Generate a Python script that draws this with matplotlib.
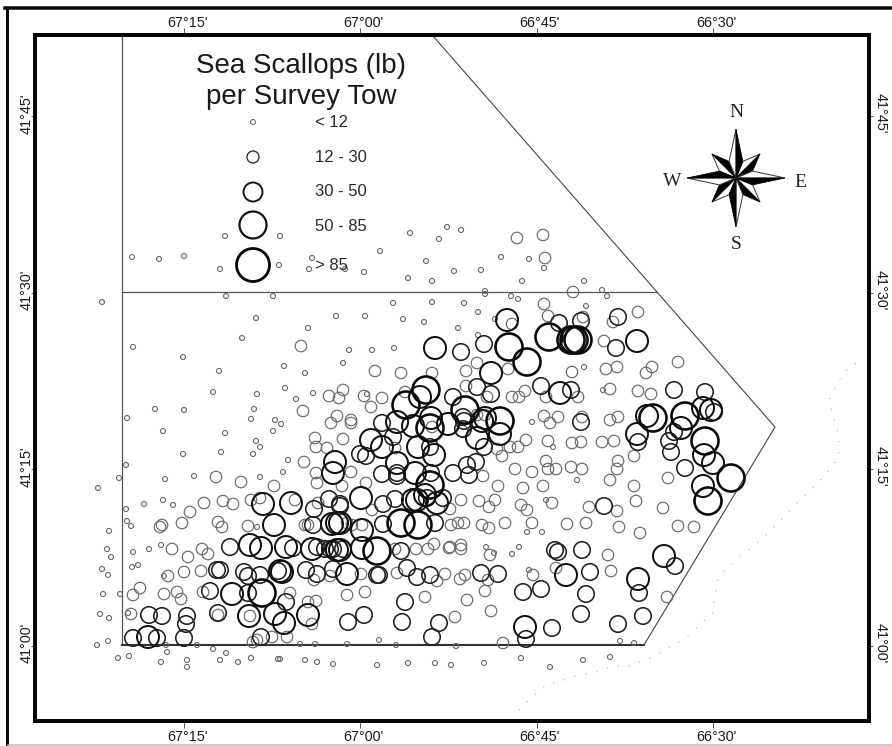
import numpy as np
import matplotlib
matplotlib.use("Agg")
import matplotlib.pyplot as plt
from matplotlib.lines import Line2D
from matplotlib.patches import Polygon
from matplotlib.transforms import ScaledTranslation

tiny_pts = [(225,236),(280,236),(132,257),(159,259),(184,256),(220,269),(279,265),(312,258),(309,269),(345,269),(364,272),(380,251),(410,233),(439,239),(447,227),(426,261),(408,278),(432,281),(226,296),(273,296),(102,302),(393,303),(432,302),(256,318),(336,316),(365,316),(403,319),(424,322),(308,328),(242,338),(133,347),(349,350),(372,350),(394,348),(183,357),(284,366),(343,363),(219,371),(305,373),
(461,230),(501,257),(529,259),(544,268),(454,271),(481,270),(522,281),(584,281),(602,290),(607,296),(485,291),(485,294),(511,296),(518,299),(464,303),(478,312),(586,306),(458,328),(495,319),(478,335),
(213,392),(257,394),(285,388),(313,393),(296,399),(155,409),(184,410),(254,409),(127,418),(251,419),(275,420),(281,424),(163,431),(225,433),(273,431),(256,441),(260,447),(183,454),(221,452),(253,454),(288,460),(126,465),(283,472),(194,476),(260,477),(119,478),(165,479),(98,488),(144,504),(163,500),(173,505),(126,509),(127,521),(131,526),(109,531),(257,527),(107,549),(111,557),(133,552),(149,549),(161,545),(102,569),(108,575),(132,567),(138,565),(164,576),(103,594),(120,594),(100,614),(109,618),(128,613),(97,645),(108,641),(118,658),(129,656),(166,645),(197,645),(167,652),(213,649),(226,653),(161,662),(187,660),(187,667),(220,660),(238,662),(251,658),(278,659),(280,659),(305,660),(317,662),(333,664),(377,665),(408,663),(435,663),(300,644),(315,644),(347,644),(379,640),(396,645),
(367,394),(532,422),(553,447),(603,390),(584,367),(577,480),(546,500),(486,547),(494,553),(512,554),(519,547),(529,570),(527,532),(542,532),(620,641),(634,643),(451,665),(484,663),(521,658),(550,667),(583,660),(610,657),(456,646)]

small_pts = [(301,346),(375,371),(401,373),(432,373),(517,238),(543,235),(545,258),(573,292),(544,304),(638,312),(548,316),(583,317),(512,324),(613,322),(604,341),(678,362),(617,367),(606,369),(652,367),(477,363),(466,371),(508,369),(572,372),(646,373),
(466,386),(525,391),(519,397),(512,397),(546,397),(578,397),(487,397),(610,389),(638,391),(651,394),
(329,396),(339,398),(343,390),(364,396),(382,398),(371,407),(303,411),(337,416),(331,423),(351,420),(351,423),(315,438),(316,447),(327,448),(343,439),(304,462),(316,473),(317,483),(351,472),(342,486),(366,483),(216,477),(241,482),(274,486),(204,503),(223,501),(233,504),(190,512),(251,500),(260,498),(295,500),(182,523),(162,525),(160,527),(218,522),(222,527),(248,526),(172,549),(188,557),(202,549),(208,554),(184,572),(168,576),(201,571),(140,588),(133,595),(164,594),(177,592),(181,599),(203,592),(131,614),(250,616),(218,615),(290,593),(308,602),(316,601),(347,595),(365,592),(312,624),(272,637),(287,637),(257,640),(253,642),(425,597),(361,574),(397,573),(330,576),(314,580),(416,549),(428,549),(434,544),(449,548),(437,581),(445,574),(318,503),(372,510),(352,525),(305,525),(308,525),(405,392),(395,448),(347,523),(362,525),(395,549),(432,427),
(477,415),(485,415),(462,431),(550,423),(544,416),(558,417),(582,417),(610,420),(618,417),(526,440),(548,441),(572,443),(581,442),(602,442),(614,441),(518,447),(510,447),(497,449),(502,456),(515,469),(532,472),(546,461),(548,469),(556,469),(571,467),(582,469),(618,461),(617,469),(610,480),(634,456),(634,486),(636,501),(663,508),(668,478),(678,526),(694,527),(640,533),(619,527),(617,511),(589,507),(586,523),(567,524),(552,503),(543,486),(523,488),(498,486),(461,500),(479,501),(495,500),(489,507),(450,509),(521,505),(527,510),(451,525),(458,523),(464,523),(482,525),(489,528),(505,523),(532,523),(450,547),(461,545),(461,549),(490,555),(608,555),(611,571),(556,568),(533,575),(488,580),(465,575),(460,579),(485,591),(467,600),(491,611),(455,617),(503,643),(667,597),(483,476)]

medium_pts = [(484,344),(461,352),(618,317),(559,323),(581,321),(616,348),(477,387),(491,394),(453,397),(541,386),(571,390),(674,390),(705,392),(714,412),(674,432),(669,441),(671,452),(638,442),(685,468),(604,506),(581,422),
(382,423),(393,437),(430,447),(463,429),(463,417),(484,447),(366,456),(360,454),(397,473),(397,476),(382,474),(431,473),(453,473),(467,465),(476,462),(469,475),(464,421),(443,498),(395,499),(383,504),(340,504),(427,498),(435,523),(383,524),(401,551),(330,549),
(230,547),(293,548),(313,525),(329,499),(325,549),(317,547),(343,549),(333,549),(278,571),(260,575),(248,576),(244,572),(220,570),(217,570),(306,570),(317,574),(333,569),(377,575),(379,575),(407,568),(417,577),(430,575),(210,591),(248,593),(286,602),(405,602),(149,615),(162,616),(187,616),(186,624),(184,638),(133,638),(157,638),(218,613),(261,637),(348,622),(364,615),(402,622),(432,637),(439,623),(481,573),(498,574),(555,550),(558,552),(582,550),(675,566),(639,593),(643,616),(618,624),(581,614),(586,594),(590,572),(541,589),(523,592),(526,639),(552,628),(340,506),(314,509)]

large_pts = [(435,348),(507,320),(491,373),(637,341),(560,393),(703,408),(711,410),(647,416),(681,428),(637,434),(704,455),(713,463),(703,486),(664,556),(638,579),(566,575),(525,627),
(420,397),(500,434),(485,418),(477,438),(448,424),(431,418),(413,426),(397,422),(371,440),(382,447),(418,447),(434,455),(397,463),(415,473),(335,462),(333,473),(361,498),(417,500),(437,503),(425,495),(413,500),(362,530),(337,523),(362,548),(340,550),(347,574),(263,504),(291,503),(274,525),(250,545),(261,548),(286,547),(332,524),(340,523),(312,549),(337,550),(282,572),(280,571),(232,594),(148,637),(249,616),(275,614),(284,623),(308,615),(482,421)]

xlarge_pts = [(509,347),(527,362),(549,337),(571,340),(574,340),(578,340),(426,390),(406,405),(465,410),(500,421),(430,428),(430,485),(401,523),(418,525),(377,551),(262,593),(653,418),(685,416),(705,441),(731,478),(708,501)]

classes = ["< 12", "12 - 30", "30 - 50", "50 - 85", "> 85"]
lon_ticks = [67.25, 67.0, 66.75, 66.5]
lon_labels = ["67°15'", "67°00'", "66°45'", "66°30'"]
lat_ticks = [41.75, 41.5, 41.25, 41.0]
lat_labels = ["41°45'", "41°30'", "41°15'", "41°00'"]

boundary = [(122,36),(122,645),(644,645),(775,427),(657,292),(433,36)]
closed_line = [(122,292),(657,292)]
coast = [(519,710),(528,701),(537,693),(546,685),(561,681),(579,675),(596,672),(613,666),(629,666),(646,660),(663,651),(679,642),(694,631),(704,621),(713,613),(714,600),(718,580),(724,571),(733,563),(741,555),(751,548),(766,535),(783,518),(799,501),(816,485),(831,468),(839,456),(839,436),(833,416),(829,400),(838,383),(843,373),(853,365),(864,358)]

W, H = 892, 746
L, T, R, B = 35, 35, 869, 721
PX_PER_DEG = 176.4 / 0.25


def lon(x):
    return 67.25 - (np.asarray(x, float) - 184.0) / PX_PER_DEG


def lat(y):
    return 41.0 + (645.7 - np.asarray(y, float)) / PX_PER_DEG


def geo(points):
    a = np.array(points, float)
    return lon(a[:, 0]), lat(a[:, 1])


def pts(px):
    return px * 72 / 100


plt.rcParams["font.family"] = ["Liberation Sans", "DejaVu Sans"]
fig = plt.figure(figsize=(W / 100, H / 100), dpi=100)
ax = fig.add_axes([L / W, 1 - B / H, (R - L) / W, (B - T) / H])
ax.set_xlim(lon(L), lon(R))
ax.set_ylim(lat(B), lat(T))

for sp in ax.spines.values():
    sp.set_linewidth(pts(4))
    sp.set_color("#050505")

# ticks and their labels
ax.set_xticks(lon_ticks)
ax.set_xticklabels(lon_labels)
ax.set_yticks(lat_ticks)
ax.set_yticklabels(lat_labels)
ax.tick_params(axis="x", which="both", top=True, bottom=True, labeltop=True, labelbottom=True,
               length=5, width=0.7, color="#555555", labelsize=10.4, labelcolor="#1c1c1c", pad=1.5)
ax.tick_params(axis="y", which="both", left=True, right=True, labelleft=True, labelright=True,
               length=3, width=0.7, color="#555555", labelsize=10.4, labelcolor="#1c1c1c", pad=1.5)


def shift(label, dx, dy):
    label.set_transform(label.get_transform() + ScaledTranslation(pts(dx) / 72, pts(dy) / 72, fig.dpi_scale_trans))


for tick in ax.xaxis.get_major_ticks():
    shift(tick.label1, 3, 0)
    shift(tick.label2, 3, -4)
for tick in ax.yaxis.get_major_ticks():
    tick.label1.set_rotation(90)
    tick.label1.set_verticalalignment("center")
    tick.label2.set_rotation(270)
    tick.label2.set_verticalalignment("center")
    shift(tick.label1, 5, 3)
    shift(tick.label2, -2, 3)

# survey boundary and coastline
bx, by = geo(boundary)
ax.plot(bx[:2], by[:2], color="#555555", lw=0.9, zorder=2)
ax.plot(bx[1:3], by[1:3], color="#333333", lw=1.5, zorder=2)
ax.plot(bx[2:], by[2:], color="#444444", lw=0.8, zorder=2)
cx, cy = geo(closed_line)
ax.plot(cx, cy, color="#555555", lw=0.9, zorder=2)
ox, oy = geo(coast)
ax.plot(ox, oy, color="#b0b0b0", lw=0.8, ls=(0, (1, 9)), zorder=2)

# stations
styles = [(tiny_pts, 5.0, 1.1, "#666666"), (small_pts, 11.5, 1.2, "#6a6a6a"),
          (medium_pts, 16.5, 1.6, "#202020"), (large_pts, 22.0, 2.0, "#111111"),
          (xlarge_pts, 27.0, 2.6, "#0a0a0a")]
for i, (p, d, lw, col) in enumerate(styles):
    xs, ys = geo(p)
    ax.scatter(xs, ys, s=pts(d) ** 2, facecolors="none", edgecolors=col, linewidths=pts(lw), zorder=3 + i)

# legend
ax.text(lon(301), lat(66), "Sea Scallops (lb)", ha="center", va="center", fontsize=20, color="#1a1a1a")
ax.text(lon(301), lat(97), "per Survey Tow", ha="center", va="center", fontsize=20, color="#1a1a1a")
leg_rows = [122, 157, 192, 225, 265]
leg_txt = [123, 158, 192, 227, 266]
leg_size = [5.0, 12.0, 19.0, 27.0, 33.0]
leg_lw = [1.0, 1.4, 1.9, 2.2, 2.8]
leg_col = ["#666666", "#333333", "#111111", "#111111", "#050505"]
for r, t, d, lw, c, name in zip(leg_rows, leg_txt, leg_size, leg_lw, leg_col, classes):
    ax.scatter(lon(253), lat(r), s=pts(d) ** 2, facecolors="none", edgecolors=c, linewidths=pts(lw), zorder=9)
    ax.text(lon(315), lat(t), name, ha="left", va="center", fontsize=12, color="#2a2a2a", zorder=9)

# compass rose
cc = (736, 178)
for k in range(8):
    ang = np.pi / 2 - k * np.pi / 4
    rad = 49 if k % 2 == 0 else 34
    tip = (cc[0] + rad * np.cos(ang), cc[1] - rad * np.sin(ang))
    cw = (cc[0] + 18 * np.cos(ang - np.pi / 8), cc[1] - 18 * np.sin(ang - np.pi / 8))
    ccw = (cc[0] + 18 * np.cos(ang + np.pi / 8), cc[1] - 18 * np.sin(ang + np.pi / 8))
    a, b = geo([cc, tip, cw]), geo([cc, tip, ccw])
    z = 11 if k % 2 == 0 else 10
    ax.add_patch(Polygon(np.column_stack(b), closed=True, fc="white", ec="#333333", lw=0.7, zorder=z))
    ax.add_patch(Polygon(np.column_stack(a), closed=True, fc="black", ec="black", lw=0.5, zorder=z))
for s, (x, y) in {"N": (736, 113), "S": (736, 245), "W": (672, 182), "E": (800, 183)}.items():
    ax.text(lon(x), lat(y), s, ha="center", va="center", fontsize=14, family="Liberation Serif", color="#222222")

# outer sheet frame
fig.add_artist(Line2D([6.5 / W, 6.5 / W], [0, 1 - 8 / H], color="#0a0a0a", lw=pts(3), transform=fig.transFigure))
fig.add_artist(Line2D([5 / W, 1], [1 - 8 / H, 1 - 8 / H], color="#0a0a0a", lw=pts(3.5), transform=fig.transFigure))
fig.add_artist(Line2D([8 / W, 1], [1 - 745 / H, 1 - 745 / H], color="#bbbbbb", lw=pts(1.5), transform=fig.transFigure))

fig.savefig("out.png", dpi=100, facecolor="white")
